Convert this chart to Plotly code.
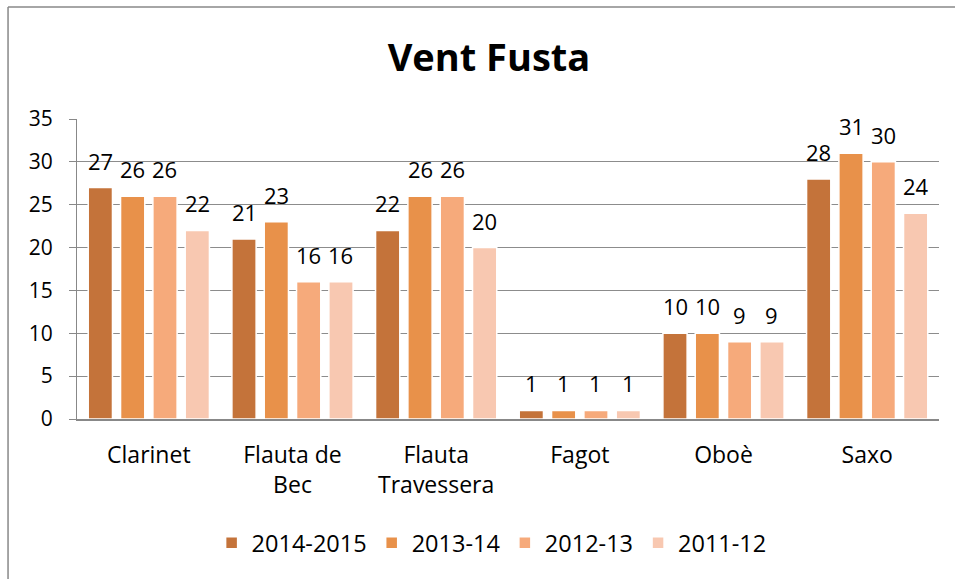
import plotly.graph_objects as go

categories = ["Clarinet", "Flauta de<br>Bec", "Flauta<br>Travessera", "Fagot", "Oboè", "Saxo"]
series_names = ["2014-2015", "2013-14", "2012-13", "2011-12"]
v_2014_2015 = [27, 21, 22, 1, 10, 28]
v_2013_14 = [26, 23, 26, 1, 10, 31]
v_2012_13 = [26, 16, 26, 1, 9, 30]
v_2011_12 = [22, 16, 20, 1, 9, 24]
y_ticks = [0, 5, 10, 15, 20, 25, 30, 35]

colors = ["#C4733A", "#E8914A", "#F6AA7B", "#F8C8B1"]
values = [v_2014_2015, v_2013_14, v_2012_13, v_2011_12]

FONT = "'Open Sans', sans-serif"

W, H = 955, 579
ML, MR, MT, MB = 77, 16, 119, 160
BARGAP = 0.1
plot_w = W - ML - MR
cat_px = plot_w / len(categories)
slot_px = cat_px * (1 - BARGAP) / len(series_names)

fig = go.Figure()
annotations = []
for i, (name, vals, col) in enumerate(zip(series_names, values, colors)):
    fig.add_trace(go.Bar(
        x=categories, y=vals, name=name,
        marker=dict(color=col, line=dict(color="white", width=1.5)),
    ))
    xs = (i - (len(series_names) - 1) / 2) * slot_px
    for c, v in zip(categories, vals):
        annotations.append(dict(
            x=c, y=v, xref="x", yref="y", text=str(v), showarrow=False,
            xanchor="center", yanchor="middle", xshift=xs, yshift=27,
            font=dict(size=22, family=FONT, color="black"),
        ))

fig.update_layout(
    width=W, height=H,
    margin=dict(l=ML, r=MR, t=MT, b=MB),
    paper_bgcolor="white", plot_bgcolor="white",
    font=dict(family=FONT, color="black", size=22),
    title=dict(text="<b>Vent Fusta</b>", x=0.512, xanchor="center",
               y=1 - 58 / 579, yanchor="middle", yref="container",
               font=dict(size=38, family=FONT, color="black")),
    barmode="group", bargap=BARGAP, bargroupgap=0.25,
    legend=dict(orientation="h", x=0.481, xanchor="center", y=-0.413,
                yanchor="middle", yref="paper", font=dict(size=23.5, family=FONT),
                itemwidth=30, tracegroupgap=0, traceorder="normal"),
    xaxis=dict(showline=True, linecolor="#888888", linewidth=1.5, ticks="",
               tickfont=dict(size=23), showgrid=False, ticklabelstandoff=15),
    yaxis=dict(range=[0, 35], tickvals=y_ticks, showgrid=True, gridcolor="#8c8c8c",
               gridwidth=1, showline=True, linecolor="#888888", linewidth=1,
               ticks="outside", ticklen=7, tickcolor="#888888",
               tickfont=dict(size=21), ticklabelstandoff=12, zeroline=False),
    annotations=annotations,
    shapes=[
        dict(type="line", xref="paper", yref="paper", x0=-0.08, x1=-0.08, y0=-0.6, y1=1.373,
             line=dict(color="#888888", width=1.5)),
        dict(type="line", xref="paper", yref="paper", x0=-0.08, x1=1.05, y0=1.373, y1=1.373,
             line=dict(color="#888888", width=1.5)),
    ],
)

fig.write_html("out.html", post_script="document.body.style.margin='0';",
               config={"displayModeBar": False})
